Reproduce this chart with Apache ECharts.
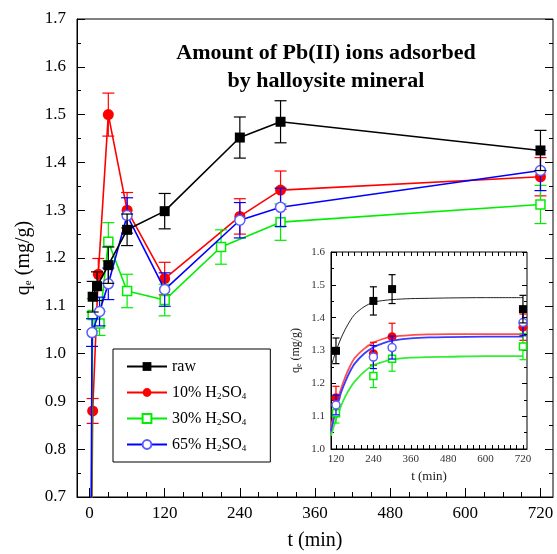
<!DOCTYPE html>
<html>
<head>
<meta charset="utf-8">
<script src="https://cdn.jsdelivr.net/npm/echarts@6/dist/echarts.min.js"></script>
<style>
  html, body { margin: 0; padding: 0; background: #fff; }
  #chart { width: 557px; height: 554px; }
</style>
</head>
<body>
<div id="chart"></div>
<script>
// Kinetics of Pb(II) uptake on halloysite: raw and acid-treated samples
const seriesNames = ['raw', '10% H2SO4', '30% H2SO4', '65% H2SO4'];

// Main panel: contact time (min), q_e (mg/g), standard deviation
const rawT = [5, 12, 30, 60, 120, 240, 305, 720];
const rawQ = [1.119, 1.141, 1.185, 1.259, 1.298, 1.452, 1.485, 1.425];
const rawErr = [0.032, 0.030, 0.038, 0.033, 0.037, 0.043, 0.044, 0.042];

const h10T = [0, 5, 14, 30, 60, 120, 240, 305, 720];
const h10Q = [0, 0.880, 1.166, 1.500, 1.300, 1.157, 1.287, 1.342, 1.370];
const h10Err = [null, 0.026, 0.033, 0.045, 0.037, 0.034, 0.037, 0.040, 0.040];

const h30T = [0, 5, 16, 30, 60, 120, 210, 305, 720];
const h30Q = [0, 1.081, 1.063, 1.234, 1.131, 1.112, 1.223, 1.275, 1.312];
const h30Err = [null, 0.034, 0.025, 0.040, 0.035, 0.033, 0.036, 0.038, 0.040];

const h65T = [0, 4, 16, 30, 60, 120, 240, 305, 720];
const h65Q = [0, 1.044, 1.088, 1.146, 1.289, 1.134, 1.279, 1.306, 1.383];
const h65Err = [null, 0.029, 0.030, 0.033, 0.037, 0.035, 0.037, 0.040, 0.042];

// Inset: points from 120 min on, with fitted kinetic curves
const insetT = [120, 240, 300, 720];
const insetRawQ = [1.299, 1.451, 1.487, 1.426];
const insetRawErr = [0.039, 0.043, 0.044, 0.042];
const insetH10Q = [1.156, 1.290, 1.342, 1.371];
const insetH10Err = [0.035, 0.035, 0.041, 0.040];
const insetH30Q = [1.109, 1.222, 1.275, 1.312];
const insetH30Err = [0.030, 0.035, 0.038, 0.040];
const insetH65Q = [1.134, 1.280, 1.309, 1.385];
const insetH65Err = [0.030, 0.035, 0.035, 0.040];

const fitT = [104, 112, 120, 135, 150, 165, 180, 210, 240, 270, 300, 360, 420, 480, 600, 720];
const fitRaw = [1.251, 1.275, 1.298, 1.335, 1.365, 1.390, 1.410, 1.433, 1.447, 1.452, 1.455, 1.458, 1.459, 1.460, 1.461, 1.461];
const fitH10 = [1.068, 1.100, 1.130, 1.180, 1.220, 1.252, 1.277, 1.305, 1.324, 1.335, 1.342, 1.347, 1.349, 1.350, 1.350, 1.350];
const fitH65 = [1.055, 1.088, 1.118, 1.168, 1.205, 1.236, 1.260, 1.290, 1.310, 1.322, 1.330, 1.337, 1.340, 1.341, 1.342, 1.342];
const fitH30 = [1.040, 1.066, 1.090, 1.128, 1.160, 1.185, 1.205, 1.235, 1.255, 1.265, 1.272, 1.278, 1.280, 1.281, 1.283, 1.283];

// Axis ticks
const mainMajorT = [0, 120, 240, 360, 480, 600, 720];
const mainMinorT = [0, 30, 60, 90, 120, 150, 180, 210, 240, 270, 300, 330, 360, 390, 420, 450, 480, 510, 540, 570, 600, 630, 660, 690, 720];
const insetMajorT = [120, 240, 360, 480, 600, 720];
const insetMinorT = [120, 140, 160, 180, 200, 220, 240, 260, 280, 300, 320, 340, 360, 380, 400, 420, 440, 460, 480, 500, 520, 540, 560, 580, 600, 620, 640, 660, 680, 700, 720];

const colors = ['#000000', '#ff0000', '#00ee00', '#0000ff'];
const serif = 'Liberation Serif, Times New Roman, serif';

function pairs(t, q) { return t.map((v, i) => [v, q[i]]); }
function triples(t, q, e) {
  const out = [];
  t.forEach((v, i) => { if (e[i] != null) out.push([v, q[i], e[i]]); });
  return out;
}

function errorBars(name, color, data, xi, yi, cap, z) {
  return {
    name: name, type: 'custom', xAxisIndex: xi, yAxisIndex: yi, clip: true, z: z,
    silent: true,
    renderItem: function (params, api) {
      const x = api.value(0), y = api.value(1), e = api.value(2);
      const a = api.coord([x, y + e]);
      const b = api.coord([x, y - e]);
      const st = { stroke: color, lineWidth: 1.2 };
      return {
        type: 'group',
        children: [
          { type: 'line', shape: { x1: a[0], y1: a[1], x2: b[0], y2: b[1] }, style: st },
          { type: 'line', shape: { x1: a[0] - cap, y1: a[1], x2: a[0] + cap, y2: a[1] }, style: st },
          { type: 'line', shape: { x1: b[0] - cap, y1: b[1], x2: b[0] + cap, y2: b[1] }, style: st }
        ]
      };
    },
    encode: { x: 0, y: 1 },
    dimensions: ['t', 'q', 'sd'],
    data: data
  };
}

const markerStyles = [
  { symbol: 'rect', symbolSize: 10, itemStyle: { color: '#000', borderColor: '#000', borderWidth: 0 } },
  { symbol: 'circle', symbolSize: 11, itemStyle: { color: '#ff0000', borderColor: '#ff0000', borderWidth: 0 } },
  { symbol: 'rect', symbolSize: 9, itemStyle: { color: '#fff', borderColor: '#00ee00', borderWidth: 1.5 } },
  { symbol: 'circle', symbolSize: 10, itemStyle: { color: '#fff', borderColor: '#5c5cff', borderWidth: 1.5 } }
];

const mainSets = [
  [rawT, rawQ, rawErr],
  [h10T, h10Q, h10Err],
  [h30T, h30Q, h30Err],
  [h65T, h65Q, h65Err]
];
const insetSets = [
  [insetRawQ, insetRawErr, fitRaw],
  [insetH10Q, insetH10Err, fitH10],
  [insetH30Q, insetH30Err, fitH30],
  [insetH65Q, insetH65Err, fitH65]
];
// drawing order: 10%, 30%, 65%, raw on top
const zOrder = [8, 2, 4, 6];
const fitColors = ['#222222', '#ff4d4d', '#33ee33', '#3c3cff'];

const series = [];
mainSets.forEach((s, i) => {
  series.push(errorBars(seriesNames[i] + ' sd', colors[i], triples(s[0], s[1], s[2]), 0, 0, 6, zOrder[i]));
  series.push({
    name: seriesNames[i], type: 'line', xAxisIndex: 0, yAxisIndex: 0, z: zOrder[i] + 1,
    data: pairs(s[0], s[1]), clip: true,
    symbol: markerStyles[i].symbol, symbolSize: markerStyles[i].symbolSize,
    itemStyle: markerStyles[i].itemStyle,
    lineStyle: { color: colors[i], width: 1.6 },
    color: colors[i],
    showAllSymbol: true
  });
});
insetSets.forEach((s, i) => {
  series.push({
    name: seriesNames[i] + ' fit', type: 'line', xAxisIndex: 2, yAxisIndex: 2, z: 20 + zOrder[i],
    data: pairs(fitT, s[2]), smooth: 0.3, showSymbol: false, silent: true,
    lineStyle: { color: fitColors[i], width: i === 0 ? 1 : 1.8 }, clip: true
  });
  series.push(errorBars(seriesNames[i] + ' inset sd', colors[i], triples(insetT, s[0], s[1]), 2, 2, 3.5, 21 + zOrder[i]));
  series.push({
    name: seriesNames[i] + ' inset', type: 'line', xAxisIndex: 2, yAxisIndex: 2, z: 22 + zOrder[i],
    data: pairs(insetT, s[0]), clip: true,
    symbol: markerStyles[i].symbol, symbolSize: markerStyles[i].symbolSize - 2,
    itemStyle: markerStyles[i].itemStyle,
    lineStyle: { width: 0, opacity: 0 }
  });
});

function subLabel(name) {
  return name.replace(/H2SO4/, 'H{s|2}SO{s|4}');
}

const option = {
  backgroundColor: '#fff',
  animation: false,
  textStyle: { fontFamily: serif },
  grid: [
    { left: 77, top: 19, right: 4, bottom: 57, outerBoundsMode: 'none', containLabel: false,
      show: true, borderColor: '#000', borderWidth: 1, backgroundColor: 'transparent' },
    { left: 331, top: 252, right: 30, bottom: 105, outerBoundsMode: 'none', containLabel: false,
      show: true, borderColor: '#000', borderWidth: 1, backgroundColor: '#fff', z: 15 }
  ],
  legend: {
    data: seriesNames,
    orient: 'vertical', left: 113, top: 349,
    padding: [9, 24, 9, 13], itemGap: 8, itemWidth: 40, itemHeight: 11,
    borderColor: '#000', borderWidth: 1, backgroundColor: '#fff',
    formatter: subLabel,
    textStyle: {
      fontFamily: serif, fontSize: 16, color: '#000', lineHeight: 17,
      rich: { s: { fontFamily: serif, fontSize: 9, color: '#000', verticalAlign: 'bottom', lineHeight: 9, padding: [9, 0, 0, 0] } }
    }
  },
  xAxis: [
    {
      gridIndex: 0, type: 'value', min: -20, max: 740, position: 'bottom',
      axisLine: { onZero: false, lineStyle: { color: '#000', width: 1 } },
      axisTick: { inside: true, length: 9, customValues: mainMajorT, lineStyle: { color: '#000' } },
      axisLabel: { customValues: mainMajorT, fontFamily: serif, fontSize: 17, color: '#000', margin: 8 },
      splitLine: { show: false },
      name: 't (min)', nameLocation: 'middle', nameGap: 34,
      nameTextStyle: { fontFamily: serif, fontSize: 20, color: '#000' }
    },
    {
      gridIndex: 0, type: 'value', min: -20, max: 740, position: 'bottom',
      axisLine: { show: false, onZero: false },
      axisTick: { inside: true, length: 5, customValues: mainMinorT, lineStyle: { color: '#000' } },
      axisLabel: { show: false }, splitLine: { show: false }
    },
    {
      gridIndex: 1, type: 'value', min: 104, max: 733, position: 'bottom', z: 16,
      axisLine: { onZero: false, lineStyle: { color: '#000', width: 1 } },
      axisTick: { inside: true, length: 4, customValues: insetMinorT, lineStyle: { color: '#000' } },
      axisLabel: { customValues: insetMajorT, fontFamily: serif, fontSize: 11, color: '#333', margin: 5 },
      splitLine: { show: false },
      name: 't (min)', nameLocation: 'middle', nameGap: 21,
      nameTextStyle: { fontFamily: serif, fontSize: 13, color: '#222' }
    },
    {
      gridIndex: 1, type: 'value', min: 104, max: 733, position: 'top', z: 16,
      axisLine: { show: false, onZero: false },
      axisTick: { inside: true, length: 4, customValues: insetMinorT, lineStyle: { color: '#000' } },
      axisLabel: { show: false }, splitLine: { show: false }
    }
  ],
  yAxis: [
    {
      gridIndex: 0, type: 'value', min: 0.7, max: 1.7, interval: 0.1, position: 'left',
      axisLine: { show: true, onZero: false, lineStyle: { color: '#000', width: 1 } },
      axisTick: { show: true, inside: true, length: 8, lineStyle: { color: '#000' } },
      minorTick: { show: true, splitNumber: 2, length: 4, lineStyle: { color: '#000' } },
      axisLabel: { formatter: v => v.toFixed(1), fontFamily: serif, fontSize: 17, color: '#000', margin: 11 },
      splitLine: { show: false },
      name: 'q{s|e} (mg/g)', nameLocation: 'middle', nameGap: 42, nameRotate: 90,
      nameTextStyle: {
        fontFamily: serif, fontSize: 20, color: '#000',
        rich: { s: { fontFamily: serif, fontSize: 11, color: '#000', verticalAlign: 'bottom', padding: [10, 0, 0, 0] } }
      }
    },
    {
      gridIndex: 0, type: 'value', min: 0.7, max: 1.7, interval: 0.1, position: 'right',
      axisLine: { show: false, onZero: false },
      axisTick: { show: true, inside: true, length: 8, lineStyle: { color: '#000' } },
      minorTick: { show: true, splitNumber: 2, length: 4, lineStyle: { color: '#000' } },
      axisLabel: { show: false }, splitLine: { show: false }
    },
    {
      gridIndex: 1, type: 'value', min: 1.0, max: 1.6, interval: 0.1, position: 'left', z: 16,
      axisLine: { show: true, onZero: false, lineStyle: { color: '#000', width: 1 } },
      axisTick: { show: true, inside: true, length: 5, lineStyle: { color: '#000' } },
      minorTick: { show: true, splitNumber: 2, length: 3, lineStyle: { color: '#000' } },
      axisLabel: { formatter: v => v.toFixed(1), fontFamily: serif, fontSize: 11, color: '#333', margin: 6 },
      splitLine: { show: false },
      name: 'q{s|e} (mg/g)', nameLocation: 'middle', nameGap: 28, nameRotate: 90,
      nameTextStyle: {
        fontFamily: serif, fontSize: 12, color: '#222',
        rich: { s: { fontFamily: serif, fontSize: 8, color: '#222', verticalAlign: 'bottom', padding: [6, 0, 0, 0] } }
      }
    },
    {
      gridIndex: 1, type: 'value', min: 1.0, max: 1.6, interval: 0.1, position: 'right', z: 16,
      axisLine: { show: false, onZero: false },
      axisTick: { show: true, inside: true, length: 5, lineStyle: { color: '#000' } },
      minorTick: { show: true, splitNumber: 2, length: 3, lineStyle: { color: '#000' } },
      axisLabel: { show: false }, splitLine: { show: false }
    }
  ],
  graphic: [
    {
      type: 'text', x: 326, y: 39, z: 50,
      style: {
        text: 'Amount of Pb(II) ions adsorbed\nby halloysite mineral',
        textAlign: 'center', fontFamily: serif, fontWeight: 'bold', fontSize: 22,
        lineHeight: 28, fill: '#000'
      }
    }
  ],
  series: series
};

const chart = echarts.init(document.getElementById('chart'), null, { renderer: 'canvas' });
chart.setOption(option);
</script>
</body>
</html>
